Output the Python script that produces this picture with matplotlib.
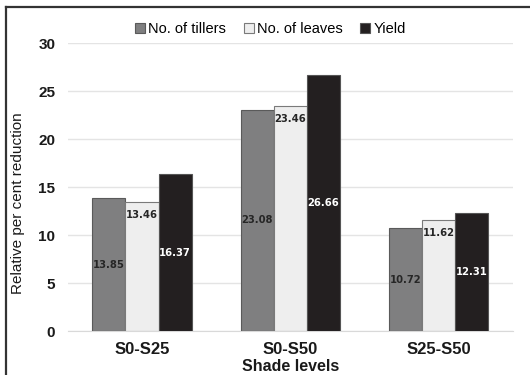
import numpy as np
import matplotlib.pyplot as plt
from matplotlib.lines import Line2D

shade_levels = ['S0-S25', 'S0-S50', 'S25-S50']
tillers = [13.85, 23.08, 10.72]
leaves = [13.46, 23.46, 11.62]
yield_ = [16.37, 26.66, 12.31]

plt.rcParams['font.family'] = ['Liberation Sans', 'DejaVu Sans']

fig = plt.figure(figsize=(5.3, 3.75), dpi=100)
ax = fig.add_axes([0.128, 0.117, 0.84, 0.768])

x = np.arange(len(shade_levels))
w = 0.223
b1 = ax.bar(x - w, tillers, w, color='#7f7f80', edgecolor='#5a5a5a', lw=0.8,
            label='No. of tillers', zorder=3)
b2 = ax.bar(x, leaves, w, color='#eeeeee', edgecolor='#7a7a7a', lw=0.8,
            label='No. of leaves', zorder=3)
b3 = ax.bar(x + w, yield_, w, color='#231f20', edgecolor='#555555', lw=0.8,
            label='Yield', zorder=3)

lab_font = dict(fontsize=7.2, fontweight='bold', family=['DejaVu Sans'])
ax.bar_label(b1, labels=[f'{v:.2f}' for v in tillers], label_type='center',
             color='#262626', **lab_font)
ax.bar_label(b2, labels=[f'{v:.2f}' for v in leaves], label_type='edge',
             padding=-13, color='#262626', **lab_font)
ax.bar_label(b3, labels=[f'{v:.2f}' for v in yield_], label_type='center',
             color='white', **lab_font)

ax.set_xlim(-0.5, 2.5)
ax.set_ylim(0, 30)
ax.set_yticks(range(0, 31, 5))
ax.set_xticks(x)
ax.set_xticklabels(shade_levels)
ax.tick_params(axis='x', length=0, labelsize=12, pad=8)
ax.tick_params(axis='y', length=0, labelsize=11, pad=9)
for t in ax.get_xticklabels() + ax.get_yticklabels():
    t.set_fontweight('bold')
    t.set_color('#1a1a1a')

ax.grid(axis='y', color='#e4e4e4', lw=1, zorder=0)
for s in ['top', 'right', 'left']:
    ax.spines[s].set_visible(False)
ax.spines['bottom'].set_color('#d9d9d9')

ax.set_xlabel('Shade levels', fontsize=11.5, fontweight='bold', labelpad=1,
              color='#1a1a1a')
ax.set_ylabel('Relative per cent reduction', fontsize=11, color='#1a1a1a')
ax.yaxis.set_label_coords(-0.097, 0.444)

ax.legend(loc='center', bbox_to_anchor=(0.455, 1.05), ncol=3,
          frameon=False, fontsize=10.5, handlelength=0.7, handleheight=0.7,
          handletextpad=0.2, columnspacing=1.2, borderpad=0)

# frame lines around the figure
fig.add_artist(Line2D([0.012, 0.012], [0, 0.982], color='#333333', lw=1.6))
fig.add_artist(Line2D([0.012, 1.0], [0.982, 0.982], color='#333333', lw=1.6))

fig.savefig('out.png', dpi=100)
